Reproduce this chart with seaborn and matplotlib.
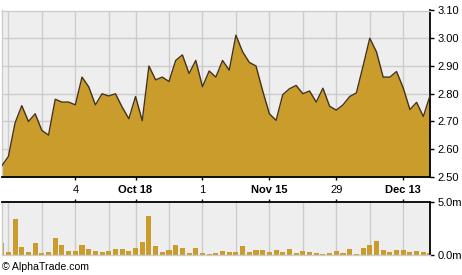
import numpy as np
import pandas as pd
import matplotlib
matplotlib.use("Agg")
import matplotlib.pyplot as plt
import seaborn as sns

# ---- data ----
price = [2.54, 2.574, 2.695, 2.757, 2.70, 2.728, 2.668, 2.651, 2.78, 2.77,
         2.77, 2.76, 2.86, 2.825, 2.76, 2.80, 2.792, 2.80, 2.752, 2.71,
         2.79, 2.703, 2.90, 2.85, 2.86, 2.844, 2.92, 2.94, 2.873, 2.92,
         2.825, 2.882, 2.86, 2.92, 2.885, 3.011, 2.951, 2.913, 2.90, 2.81,
         2.728, 2.704, 2.797, 2.818, 2.83, 2.80, 2.81, 2.77, 2.82, 2.755,
         2.741, 2.76, 2.79, 2.803, 2.90, 3.00, 2.951, 2.86, 2.86, 2.88,
         2.821, 2.743, 2.769, 2.718, 2.793]
volume_m = [1.11, 0.25, 3.40, 0.73, 0.25, 1.11, 0.16, 0.25, 1.59, 0.92,
            0.35, 0.35, 0.92, 0.54, 0.35, 0.25, 0.35, 0.54, 0.54, 0.35,
            0.63, 1.21, 3.68, 0.83, 0.25, 0.44, 0.92, 0.63, 0.16, 0.63,
            0.16, 0.06, 0.16, 0.35, 0.25, 0.25, 0.83, 0.25, 0.44, 0.44,
            0.25, 0.44, 0.25, 0.54, 0.16, 0.35, 0.25, 0.16, 0.06, 0.16,
            0.35, 0.16, 0.54, 0.06, 0.63, 0.92, 1.30, 0.44, 0.25, 0.44,
            0.44, 0.25, 0.35, 0.25, 0.16]
week_grid_idx = [1, 6, 16, 25, 35, 45, 55]
label_idx = [11, 20, 30, 40, 50, 60]
x_labels = ["4", "Oct 18", "1", "Nov 15", "29", "Dec 13"]
x_label_bold = [False, True, False, True, False, True]
price_ticks = [2.50, 2.60, 2.70, 2.80, 2.90, 3.00, 3.10]
vol_ticks = [0.0, 5.0]
vol_labels = ["0.0m", "5.0m"]

GOLD = "#C99C2B"
LINE = "#45321A"
BG = "#EEEEEE"
GRID = "#CCCCCC"

plt.rcParams["font.family"] = ["Liberation Sans", "DejaVu Sans"]
plt.rcParams["font.size"] = 8

W, H = 462, 275
fig = plt.figure(figsize=(W / 100, H / 100), dpi=100)
fig.patch.set_facecolor("white")

df = pd.DataFrame({"i": np.arange(len(price)), "price": price, "vol": volume_m})
n = len(price) - 1

# ---- price panel ----
ax = fig.add_axes([1.7 / W, (H - 177) / H, (430 - 1.7) / W, (177 - 10.5) / H])
ax.set_facecolor(BG)
ax.set_axisbelow(True)
ax.fill_between(df["i"], df["price"], 2.5, color=GOLD, lw=0, zorder=2)
sns.lineplot(data=df, x="i", y="price", ax=ax, color=LINE, lw=1.0, zorder=3)
ax.set_xlim(0, n)
ax.set_ylim(2.5, 3.1)
ax.set_xlabel("")
ax.set_ylabel("")
ax.set_xticks(label_idx)
ax.set_xticks(week_grid_idx, minor=True)
ax.set_xticklabels(x_labels)
for t, b in zip(ax.get_xticklabels(), x_label_bold):
    if b:
        t.set_fontweight("bold")
ax.set_yticks(price_ticks)
ax.set_yticklabels([f"{v:.2f}" for v in price_ticks])
ax.yaxis.tick_right()
ax.grid(True, which="both", color=GRID, lw=1.0)
ax.tick_params(axis="x", which="major", direction="out", length=2.5, width=1, pad=3, colors="black")
ax.tick_params(axis="x", which="minor", length=0)
ax.tick_params(axis="y", direction="out", length=3, width=1, pad=2.5, labelsize=8)
for s in ["left", "top"]:
    ax.spines[s].set_color(GRID)
    ax.spines[s].set_linewidth(1)
for s in ["right", "bottom"]:
    ax.spines[s].set_color("black")
    ax.spines[s].set_linewidth(1.3)

# ---- volume panel ----
av = fig.add_axes([1.7 / W, (H - 254.7) / H, (430 - 1.7) / W, (254.7 - 202.3) / H])
av.set_facecolor(BG)
av.set_axisbelow(True)
sns.barplot(data=df, x="i", y="vol", ax=av, color=GOLD, width=0.75,
            saturation=1, edgecolor="none", zorder=2)
av.set_xlim(0, n)
av.set_ylim(0, 5.0)
av.set_xlabel("")
av.set_ylabel("")
av.set_xticks(label_idx)
av.set_xticks(week_grid_idx, minor=True)
av.xaxis.tick_top()
av.set_xticklabels([])
av.grid(True, axis="x", which="both", color=GRID, lw=1.0)
av.grid(False, axis="y")
av.tick_params(axis="x", which="major", direction="out", length=2.5, width=1, colors="black")
av.tick_params(axis="x", which="minor", length=0)
av.set_yticks(vol_ticks)
av.set_yticklabels(vol_labels)
av.yaxis.tick_right()
av.tick_params(axis="y", direction="out", length=3, width=1, pad=2.5, labelsize=8)
for s in ["left", "bottom"]:
    av.spines[s].set_color(GRID)
    av.spines[s].set_linewidth(1)
for s in ["right", "top"]:
    av.spines[s].set_color("black")
    av.spines[s].set_linewidth(1.3)

fig.text(2 / W, 1 - 267 / H, "\u00a9 AlphaTrade.com", va="center", ha="left", fontsize=7.6)

fig.savefig("out.png", dpi=100)
